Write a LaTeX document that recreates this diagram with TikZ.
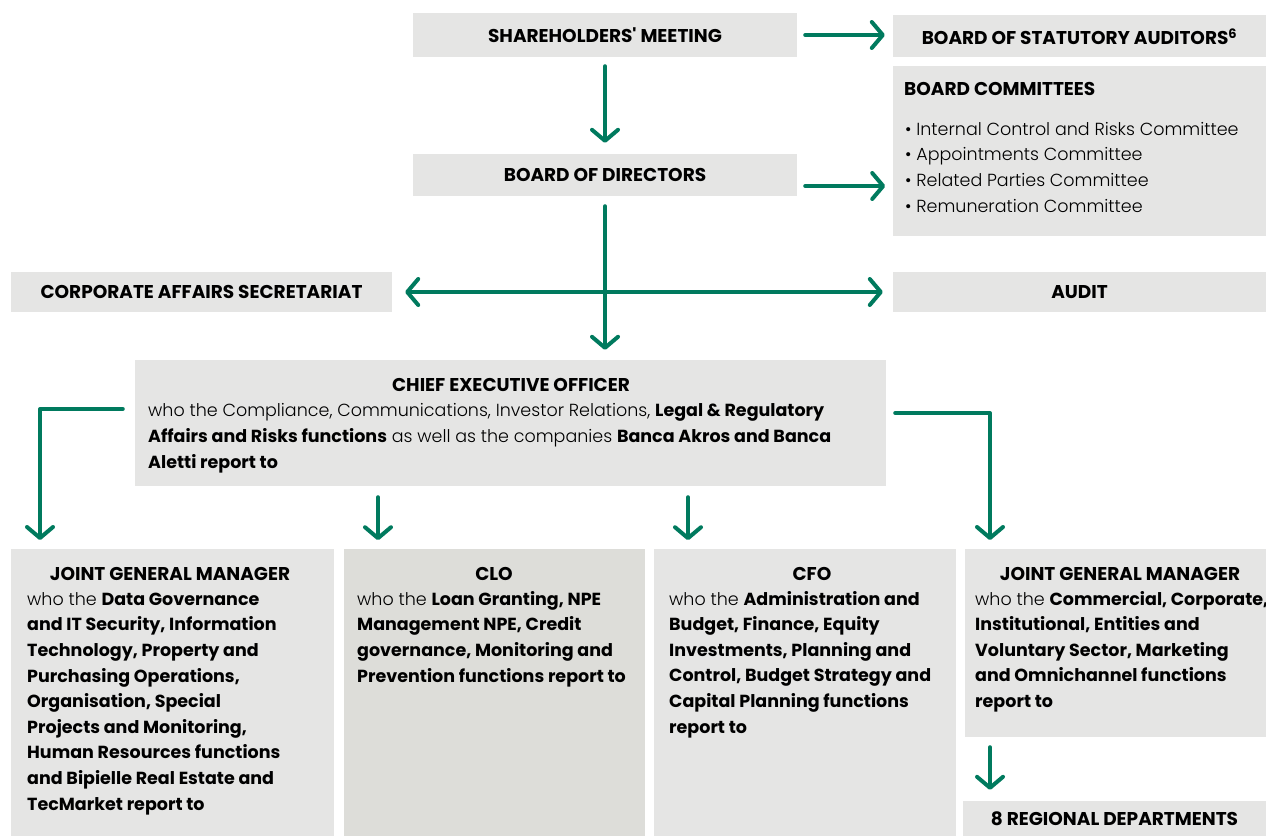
\documentclass[tikz,border=0pt]{standalone}
\usepackage{fontspec}
\setmainfont{Poppins}[UprightFont=* Light, BoldFont=* Bold]
\usetikzlibrary{arrows.meta,calc}
\definecolor{bpmgreen}{RGB}{0,122,94}
\definecolor{boxgray}{RGB}{229,229,228}
\definecolor{clogray}{RGB}{221,221,217}
\tikzset{
    box/.style={fill=boxgray, draw=none, inner sep=0pt},
    ttl/.style={font=\bfseries\fontsize{18.5}{20}\selectfont, inner sep=0pt},
    txt/.style={font=\fontsize{17.5}{25.6}\selectfont, inner sep=0pt, align=left, anchor=base west},
    arr/.style={draw=bpmgreen, line width=4pt, line cap=round, line join=round,
        -{Straight Barb[length=11pt,width=26pt,round]}},
    twoarr/.style={arr, {Straight Barb[length=11pt,width=26pt,round]}-{Straight Barb[length=11pt,width=26pt,round]}}
}
\begin{document}
\begin{tikzpicture}[x=1pt, y=-1pt]
    \useasboundingbox (0,0) rectangle (1266,836);
    % top row
    \node[box, minimum width=384, minimum height=44] (shm) at (605,35) {};
        \node[ttl] (shmtxt) at (shm.center) {SHAREHOLDERS\textquotesingle\ MEETING};
    \node[box, minimum width=373, minimum height=42] (aud) at (1079.5,36) {};
        \node[ttl] (audtxt) at (1079.5,37) {BOARD OF STATUTORY AUDITORS\textsuperscript{6}};
    \node[box, minimum width=373, minimum height=170] (com) at (1079.5,151) {};
        \node[ttl, anchor=base west] (comttl) at (904,95) {BOARD COMMITTEES};
        % base of a multi-line text = its last line
        \node[txt] (comtxt) at (905,212) {\textbullet\ Internal Control and Risks Committee\\
            \textbullet\ Appointments Committee\\
            \textbullet\ Related Parties Committee\\
            \textbullet\ Remuneration Committee};
    \node[box, minimum width=384, minimum height=42] (bod) at (605,175) {};
        \node[ttl] (bodtxt) at (bod.center) {BOARD OF DIRECTORS};
    % staff row
    \node[box, minimum width=381, minimum height=40] (sec) at (201.5,292) {};
        \node[ttl] (sectxt) at (sec.center) {CORPORATE AFFAIRS SECRETARIAT};
    \node[box, minimum width=373, minimum height=40] (adt) at (1079.5,292) {};
        \node[ttl] (adttxt) at (adt.center) {AUDIT};
    % ceo
    \node[box, minimum width=751, minimum height=126] (ceo) at (510.5,423) {};
        \node[ttl, anchor=base] (ceottl) at (511,391) {CHIEF EXECUTIVE OFFICER};
        \node[txt] (ceotxt) at (148,468) {who the Compliance, Communications, Investor Relations, \textbf{Legal \& Regulatory}\\
            \textbf{Affairs and Risks functions} as well as the companies \textbf{Banca Akros and Banca}\\
            \textbf{Aletti report to}};
    % bottom row
    \node[box, minimum width=323, minimum height=287] (jgm1) at (172.5,692.5) {};
        \node[ttl, anchor=base] (jgm1ttl) at (170,580) {JOINT GENERAL MANAGER};
        \node[txt] (jgm1txt) at (27,810) {who the \textbf{Data Governance}\\
            \textbf{and IT Security, Information}\\
            \textbf{Technology, Property and}\\
            \textbf{Purchasing Operations,}\\
            \textbf{Organisation, Special}\\
            \textbf{Projects and Monitoring,}\\
            \textbf{Human Resources functions}\\
            \textbf{and Bipielle Real Estate and}\\
            \textbf{TecMarket report to}};
    \node[box, fill=clogray, minimum width=301, minimum height=287] (clo) at (494.5,692.5) {};
        \node[ttl, anchor=base] (clottl) at (494,580) {CLO};
        \node[txt] (clotxt) at (357,682) {who the \textbf{Loan Granting, NPE}\\
            \textbf{Management NPE, Credit}\\
            \textbf{governance, Monitoring and}\\
            \textbf{Prevention functions report to}};
    \node[box, minimum width=302, minimum height=287] (cfo) at (805,692.5) {};
        \node[ttl, anchor=base] (cfottl) at (812,580) {CFO};
        \node[txt] (cfotxt) at (669,733) {who the \textbf{Administration and}\\
            \textbf{Budget, Finance, Equity}\\
            \textbf{Investments, Planning and}\\
            \textbf{Control, Budget Strategy and}\\
            \textbf{Capital Planning functions}\\
            \textbf{report to}};
    \node[box, minimum width=301, minimum height=188] (jgm2) at (1115.5,643) {};
        \node[ttl, anchor=base] (jgm2ttl) at (1120,580) {JOINT GENERAL MANAGER};
        \node[txt] (jgm2txt) at (975,707.4) {who the \textbf{Commercial, Corporate,}\\
            \textbf{Institutional, Entities and}\\
            \textbf{Voluntary Sector, Marketing}\\
            \textbf{and Omnichannel functions}\\
            \textbf{report to}};
    \node[box, minimum width=303, minimum height=35] (reg) at (1114.5,818.5) {};
        \node[ttl] (regtxt) at (reg.center) {8 REGIONAL DEPARTMENTS};
    % connectors
    \coordinate (lturn) at (40,409);
    \coordinate (lend) at (40,540);
    \coordinate (rturn) at (990,413);
    \coordinate (rend) at (990,540);
    \draw[arr, shorten <=8pt, shorten >=8pt] (shm.east) -- (aud.west |- shm.east);
    \draw[arr, shorten <=9pt, shorten >=11pt] (shm.south) -- (bod.north);
    \draw[arr] ($(bod.east)+(8,11)$) -- ($(bod.east)+(88,11)$);
    \draw[arr, shorten <=10pt, shorten >=10pt] (bod.south) -- (ceo.north -| bod.south);
    \draw[twoarr, shorten <=13pt, shorten >=10pt] (sec.east) -- (adt.west);
    \draw[arr] ($(ceo.west)+(-12,-14)$) -- (lturn) -- (lend);
    \draw[arr] ($(ceo.east)+(9,-10)$) -- (rturn) -- (rend);
    \draw[arr] ($(ceo.south)+(-132.5,11)$) -- ($(ceo.south)+(-132.5,54)$);
    \draw[arr] ($(ceo.south)+(177.5,11)$) -- ($(ceo.south)+(177.5,54)$);
    \draw[arr, shorten <=10pt, shorten >=11pt] (jgm2.south -| rend) -- (reg.north -| rend);
\end{tikzpicture}
\end{document}
